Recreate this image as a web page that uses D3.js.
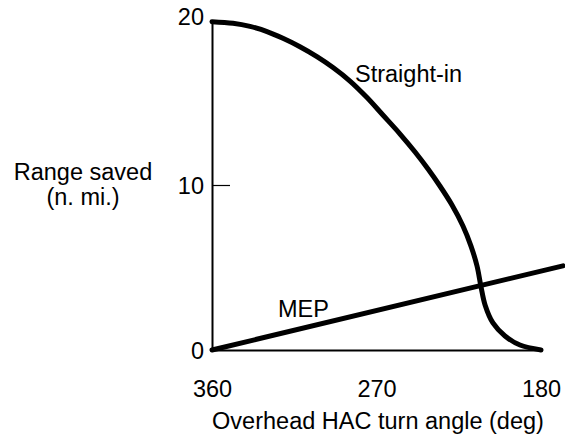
<!DOCTYPE html>
<html>
<head>
<meta charset="utf-8">
<script src="https://cdn.jsdelivr.net/npm/d3@7"></script>
<style>
  html, body { margin: 0; padding: 0; background: #fff; }
  svg { display: block; }
  text { font-family: "Liberation Sans", Arial, sans-serif; fill: #000; }
</style>
</head>
<body>
<svg id="chart" width="565" height="441"></svg>
<script>
// ---- data ----
const xTicks = [360, 270, 180];
const yTicks = [0, 10, 20];
const straightInAngle = [360, 348.5, 339.2, 329.9, 321.2, 311.9, 302.6, 293.8, 284.5, 275.2, 266.5, 257.1, 248.9, 241.8, 235.3, 228.7, 222.7, 218.3, 215.0, 212.8, 210.6, 206.3, 199.7, 191.5, 180];
const straightInRange = [19.9, 19.8, 19.61, 19.3, 18.89, 18.38, 17.78, 17.12, 16.3, 15.3, 14.24, 13.09, 12.0, 10.97, 9.94, 8.79, 7.52, 6.3, 5.09, 3.82, 2.73, 1.64, 0.85, 0.3, 0];
const mepAngle = [360, 168];
const mepRange = [0, 5.1];
const seriesLabels = ["Straight-in", "MEP"];
const xTitle = "Overhead HAC turn angle (deg)";
const yTitleLines = ["Range saved", "(n. mi.)"];

// ---- layout ----
const svg = d3.select("#chart");
const FS = "23.5px";
const x = d3.scaleLinear().domain([360, 180]).range([212, 541]);
const y = d3.scaleLinear().domain([0, 20]).range([350, 20]);

// x axis
const gx = svg.append("g").attr("transform", `translate(0,${y(0)})`)
  .call(d3.axisBottom(x).tickValues(xTicks).tickFormat(d3.format("d")).tickSize(0).tickPadding(30));
gx.select(".domain").attr("stroke", "#000").attr("stroke-width", 2);
gx.selectAll("text").attr("font-size", FS).attr("font-family", "Liberation Sans, Arial, sans-serif");

// y axis
const gy = svg.append("g").attr("transform", `translate(${x(360)},0)`)
  .call(d3.axisLeft(y).tickValues(yTicks).tickFormat(d3.format("d")).tickSizeInner(-18).tickSizeOuter(0).tickPadding(27));
gy.select(".domain").attr("stroke", "#000").attr("stroke-width", 2);
gy.selectAll(".tick line").attr("stroke", "#000").attr("stroke-width", 1.2)
  .attr("display", d => d === 10 ? null : "none");
gy.selectAll(".tick text").attr("font-size", FS).attr("font-family", "Liberation Sans, Arial, sans-serif")
  .attr("x", -8).attr("dy", d => d === 20 ? "0.2em" : "0.36em");

// y title
const yt = svg.append("text").attr("text-anchor", "middle").attr("font-size", FS);
yTitleLines.forEach((t, i) => {
  yt.append("tspan").attr("x", 83).attr("y", 180 + i * 25).text(t);
});

// x title
svg.append("text").attr("x", 378).attr("y", 429).attr("text-anchor", "middle")
  .attr("font-size", FS).text(xTitle);

// lines
const line = d3.line().x(d => x(d[0])).y(d => y(d[1])).curve(d3.curveCatmullRom.alpha(0.5));
const straightIn = straightInAngle.map((a, i) => [a, straightInRange[i]]);
const mep = mepAngle.map((a, i) => [a, mepRange[i]]);

svg.append("path").datum(straightIn).attr("d", line)
  .attr("fill", "none").attr("stroke", "#000").attr("stroke-width", 5)
  .attr("stroke-linecap", "round").attr("stroke-linejoin", "round");
svg.append("path").datum(mep).attr("d", d3.line().x(d => x(d[0])).y(d => y(d[1])))
  .attr("fill", "none").attr("stroke", "#000").attr("stroke-width", 5)
  .attr("stroke-linecap", "round");

// series labels
svg.append("text").attr("x", 355).attr("y", 82).attr("font-size", FS).text(seriesLabels[0]);
svg.append("text").attr("x", 278).attr("y", 317).attr("font-size", FS).text(seriesLabels[1]);
</script>
</body>
</html>
